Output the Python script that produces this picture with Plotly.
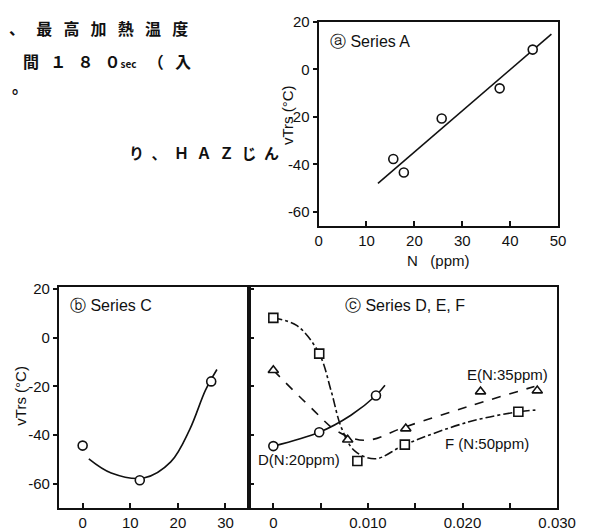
import plotly.graph_objects as go

W, H = 605, 532

# ---------------- data ----------------
# (a) Series A : vTrs vs N (ppm)
a_n = [15.6, 17.8, 25.7, 37.8, 44.7]
a_vtrs = [-37.7, -43.4, -20.7, -8.0, 8.3]
a_fit_n = [12.4, 48.6]
a_fit_vtrs = [-48.0, 14.8]

# (b) Series C
c_x = [0, 12, 27]
c_vtrs = [-44.3, -58.5, -17.9]
c_curve_x = [1.3, 6.0, 13.0, 18.5, 22.5, 25.8, 28.2]
c_curve_vtrs = [-49.7, -55.5, -57.5, -51.0, -37.6, -21.5, -13.0]

# (c) Series D, E, F
d_x = [0.0, 0.00485, 0.01085]
d_vtrs = [-44.5, -38.8, -23.7]
d_curve_x = [0.0, 0.00485, 0.0082, 0.01085, 0.0118]
d_curve_vtrs = [-44.5, -38.8, -31.8, -23.7, -19.5]

e_x = [0.0, 0.00786, 0.0140, 0.0219, 0.0279]
e_vtrs = [-13.3, -41.9, -37.3, -22.1, -21.7]
e_curve_x = [0.0, 0.0039, 0.0068, 0.0098, 0.0140, 0.0207, 0.0276]
e_curve_vtrs = [-13.3, -28.4, -38.5, -42.1, -36.5, -28.1, -20.0]

f_x = [0.0, 0.00485, 0.00888, 0.0139, 0.0259]
f_vtrs = [8.2, -6.5, -50.6, -43.9, -30.4]
f_curve_x = [0.0, 0.0025, 0.00485, 0.0061, 0.0072, 0.0086, 0.0108, 0.0139, 0.0207, 0.0259, 0.0277]
f_curve_vtrs = [8.2, 5.0, -6.5, -21.7, -37.0, -46.5, -49.7, -43.9, -34.5, -30.4, -29.7]

a_ticks = [0, 10, 20, 30, 40, 50]
vtrs_ticks = [20, 0, -20, -40, -60]
vtrs_ticktext = ["20", "0", "-20", "-40", "-60"]
b_ticks = [0, 10, 20, 30]
c_tickvals = [0, 0.005, 0.010, 0.015, 0.020, 0.025, 0.030]
c_ticktext = ["0", "", "0.010", "", "0.020", "", "0.030"]

# ---------------- styling helpers ----------------
FONT = "Liberation Sans, Arial, sans-serif"
JP = "Noto Sans CJK JP"
BLACK = "#111111"


def px_x(p):
    return p / W


def px_y(p):
    return 1 - p / H


marker_common = dict(size=9, color="white", line=dict(color=BLACK, width=1.6))

fig = go.Figure()

# (a)
fig.add_trace(go.Scatter(x=a_fit_n, y=a_fit_vtrs, mode="lines",
                         line=dict(color=BLACK, width=1.6), xaxis="x", yaxis="y"))
fig.add_trace(go.Scatter(x=a_n, y=a_vtrs, mode="markers",
                         marker=dict(symbol="circle", **marker_common), xaxis="x", yaxis="y"))

# (b)
fig.add_trace(go.Scatter(x=c_curve_x, y=c_curve_vtrs, mode="lines", line_shape="spline",
                         line=dict(color=BLACK, width=1.6), xaxis="x2", yaxis="y2"))
fig.add_trace(go.Scatter(x=c_x, y=c_vtrs, mode="markers",
                         marker=dict(symbol="circle", **marker_common), xaxis="x2", yaxis="y2"))

# (c)
fig.add_trace(go.Scatter(x=d_curve_x, y=d_curve_vtrs, mode="lines", line_shape="spline",
                         line=dict(color=BLACK, width=1.6), xaxis="x3", yaxis="y3"))
fig.add_trace(go.Scatter(x=e_curve_x, y=e_curve_vtrs, mode="lines", line_shape="spline",
                         line=dict(color=BLACK, width=1.6, dash="dash"), xaxis="x3", yaxis="y3"))
fig.add_trace(go.Scatter(x=f_curve_x, y=f_curve_vtrs, mode="lines", line_shape="spline",
                         line=dict(color=BLACK, width=1.6, dash="dashdot"), xaxis="x3", yaxis="y3"))
fig.add_trace(go.Scatter(x=d_x, y=d_vtrs, mode="markers",
                         marker=dict(symbol="circle", **marker_common), xaxis="x3", yaxis="y3"))
fig.add_trace(go.Scatter(x=e_x, y=e_vtrs, mode="markers",
                         marker=dict(symbol="triangle-up", **marker_common), xaxis="x3", yaxis="y3"))
fig.add_trace(go.Scatter(x=f_x, y=f_vtrs, mode="markers",
                         marker=dict(symbol="square", **marker_common), xaxis="x3", yaxis="y3"))

axis_base = dict(showgrid=False, zeroline=False, showline=True, linecolor=BLACK, linewidth=2,
                 mirror=True, tickcolor=BLACK, tickwidth=1.5,
                 tickfont=dict(family=FONT, size=15, color=BLACK))

fig.update_layout(
    width=W, height=H, margin=dict(l=0, r=0, t=0, b=0),
    paper_bgcolor="white", plot_bgcolor="white", showlegend=False,
    font=dict(family=FONT, color=BLACK),
    xaxis=dict(axis_base, domain=[px_x(327), px_x(576)], range=[0, 50], anchor="y",
               tickmode="array", tickvals=a_ticks, ticks="inside", ticklen=5),
    yaxis=dict(axis_base, domain=[px_y(221), px_y(13)], range=[-66, 20], anchor="x",
               tickmode="array", tickvals=vtrs_ticks, ticktext=vtrs_ticktext,
               ticks="outside", ticklen=4),
    xaxis2=dict(axis_base, domain=[px_x(57), px_x(255)], range=[-5, 35], anchor="y2",
                tickmode="array", tickvals=b_ticks, ticks="inside", ticklen=5),
    yaxis2=dict(axis_base, domain=[px_y(508), px_y(283)], range=[-70.1, 20.8], anchor="x2",
                tickmode="array", tickvals=vtrs_ticks, ticktext=vtrs_ticktext,
                ticks="outside", ticklen=4),
    xaxis3=dict(axis_base, domain=[px_x(255), px_x(575)], range=[-0.00254, 0.030], anchor="y3",
                tickmode="array", tickvals=c_tickvals, ticktext=c_ticktext, ticks="inside", ticklen=5),
    yaxis3=dict(axis_base, domain=[px_y(508), px_y(283)], range=[-70.1, 20.8], anchor="x3",
                tickmode="array", tickvals=vtrs_ticks, showticklabels=False,
                ticks="inside", ticklen=5),
)

ann = []


def label(x, y, text, size=15, angle=0, xanchor="center", family=FONT, weight="normal"):
    ann.append(dict(xref="paper", yref="paper", x=px_x(x), y=px_y(y), text=text,
                    showarrow=False, xanchor=xanchor, yanchor="middle", textangle=angle,
                    font=dict(family=family, size=size, color=BLACK, weight=weight)))


# axis titles
label(294, 108, "vTrs (°C)", size=15, angle=-90)
label(17, 393, "vTrs (°C)", size=15, angle=-90)
label(452, 256, "N   (ppm)", size=15)

# panel titles
label(337, 33, "ⓐ Series A", size=16, xanchor="left")
label(67, 302, "ⓑ Series C", size=16, xanchor="left")
label(352, 302, "ⓒ Series D, E, F", size=16, xanchor="left")

# series labels in panel c
label(523, 372, "E(N:35ppm)", size=15)
label(502, 442, "F (N:50ppm)", size=15)
label(307, 458, "D(N:20ppm)", size=15)

# surrounding Japanese body text
SEP = "\u2002\u2009"
label(3, 19, SEP.join(list("、最高加熱温度")), size=16, xanchor="left", family=JP, weight="bold")
label(18, 53, SEP.join(["間", "１", "８", "０<span style='font-size:10px'>sec</span>", "（", "入"]),
      size=16, xanchor="left", family=JP, weight="bold")
label(6, 78, "。", size=16, xanchor="left", family=JP, weight="bold")
label(128, 146, "\u2002".join(["り", "、", "Ｈ", "Ａ", "Ｚ", "じ", "ん"]), size=15, xanchor="left",
      family=JP, weight="bold")

fig.update_layout(annotations=ann)

fig.write_html("out.html", config={"displayModeBar": False},
               post_script="document.body.style.margin='0';document.body.style.overflow='hidden';")
